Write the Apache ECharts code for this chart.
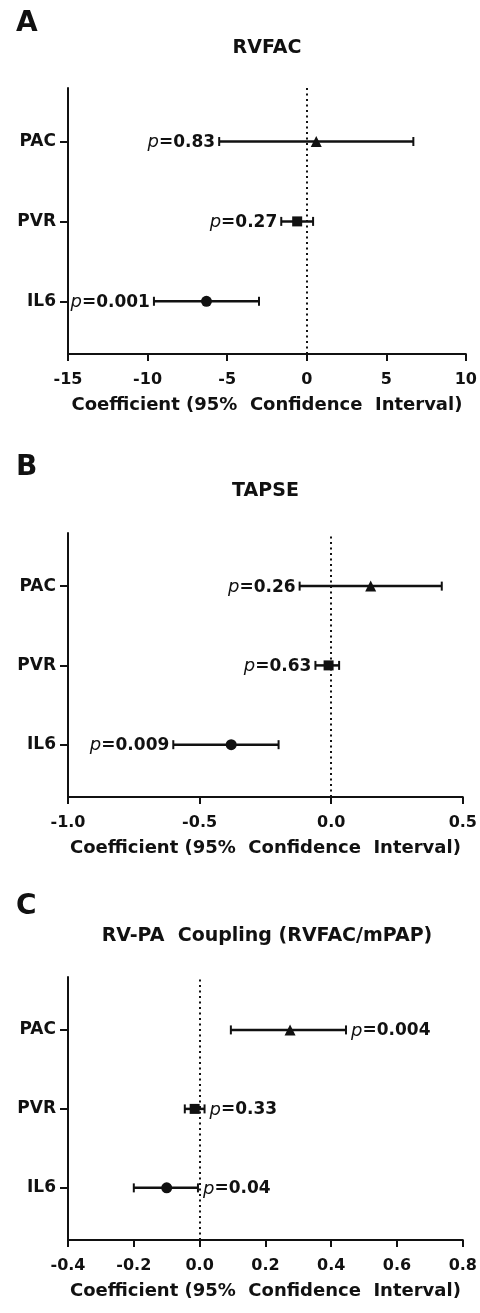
<!DOCTYPE html>
<html><head><meta charset="utf-8">
<script src="https://cdn.jsdelivr.net/npm/echarts@6/dist/echarts.min.js"></script>
<style>html,body{margin:0;padding:0;background:#fff;}#c{width:480px;height:1313px;}</style>
</head><body><div id="c"></div>
<script>
// Categories (bottom to top)
const categories = ['IL6', 'PVR', 'PAC'];
const xAxisTitle = 'Coefficient (95%  Confidence  Interval)';

// Panel A: RVFAC
const rvfacEst  = [-6.3, -0.6, 0.6];
const rvfacLow  = [-9.6, -1.6, -5.5];
const rvfacHigh = [-3.0, 0.4, 6.7];
const rvfacP    = ['0.001', '0.27', '0.83'];
const rvfacTicks = [-15, 10, 5];

// Panel B: TAPSE
const tapseEst  = [-0.38, -0.01, 0.15];
const tapseLow  = [-0.60, -0.06, -0.12];
const tapseHigh = [-0.20, 0.03, 0.42];
const tapseP    = ['0.009', '0.63', '0.26'];
const tapseTicks = [-1.0, 0.5, 0.5];

// Panel C: RV-PA Coupling
const coupEst  = [-0.10, -0.015, 0.275];
const coupLow  = [-0.20, -0.045, 0.095];
const coupHigh = [-0.005, 0.015, 0.445];
const coupP    = ['0.04', '0.33', '0.004'];
const coupTicks = [-0.4, 0.8, 0.2];

const FONT = 'DejaVu Sans';
const INK = '#111111';
const symbols = ['circle', 'rect', 'triangle'];
const symSizes = [11, 10, 11];

const panels = [
  {letter:'A', title:'RVFAC', est:rvfacEst, low:rvfacLow, high:rvfacHigh, p:rvfacP, ticks:rvfacTicks, dec:0, side:'left',
   grid:{left:68, top:88, width:398, height:266}, letterY:22, titleY:48},
  {letter:'B', title:'TAPSE', est:tapseEst, low:tapseLow, high:tapseHigh, p:tapseP, ticks:tapseTicks, dec:1, side:'left',
   grid:{left:68, top:533, width:395, height:264}, letterY:466, titleY:491},
  {letter:'C', title:'RV-PA  Coupling (RVFAC/mPAP)', est:coupEst, low:coupLow, high:coupHigh, p:coupP, ticks:coupTicks, dec:1, side:'right',
   grid:{left:68, top:977, width:398, height:263}, letterY:905, titleY:936}
];

const grids = [], xAxes = [], yAxes = [], series = [], graphics = [];

panels.forEach((pn, k) => {
  grids.push(pn.grid);
  xAxes.push({
    type:'value', gridIndex:k, min:pn.ticks[0], max:pn.ticks[1], interval:pn.ticks[2],
    axisLine:{show:true, onZero:false, lineStyle:{color:INK, width:2}},
    axisTick:{show:true, length:7, lineStyle:{color:INK, width:2}},
    axisLabel:{fontFamily:FONT, fontWeight:'bold', fontSize:16, color:INK, margin:18,
      formatter:v => Number(v).toFixed(pn.dec)},
    splitLine:{show:false},
    name:xAxisTitle, nameLocation:'middle', nameGap:42,
    nameTextStyle:{fontFamily:FONT, fontWeight:'bold', fontSize:18, color:INK}
  });
  yAxes.push({
    type:'value', gridIndex:k, min:0.34, max:3.67,
    axisLine:{show:true, onZero:false, lineStyle:{color:INK, width:2}},
    axisTick:{show:true, length:8, customValues:[1,2,3], lineStyle:{color:INK, width:2}},
    axisLabel:{show:true, customValues:[1,2,3], fontFamily:FONT, fontWeight:'bold', fontSize:17, color:INK, margin:12,
      formatter:v => categories[Math.round(v) - 1]},
    splitLine:{show:false}
  });
  const cdata = categories.map((c, i) => [pn.low[i], pn.high[i], i + 1]);
  series.push({
    type:'custom', xAxisIndex:k, yAxisIndex:k, data:cdata,
    encode:{x:[0,1], y:2},
    renderItem:(params, api) => {
      const i = params.dataIndex;
      const y = api.value(2);
      const a = api.coord([api.value(0), y]);
      const b = api.coord([api.value(1), y]);
      const cap = 4.5;
      const ls = {stroke:INK, lineWidth:2.5};
      const left = pn.side === 'left';
      return {type:'group', children:[
        {type:'line', shape:{x1:a[0], y1:a[1], x2:b[0], y2:b[1]}, style:ls},
        {type:'line', shape:{x1:a[0], y1:a[1]-cap, x2:a[0], y2:a[1]+cap}, style:{stroke:INK, lineWidth:2}},
        {type:'line', shape:{x1:b[0], y1:b[1]-cap, x2:b[0], y2:b[1]+cap}, style:{stroke:INK, lineWidth:2}},
        {type:'text', x: left ? a[0]-4 : b[0]+5, y:a[1]+1,
         style:{text:'{i|p}=' + pn.p[i], align: left ? 'right' : 'left', verticalAlign:'middle',
           fontFamily:FONT, fontWeight:'bold', fontSize:17, fill:INK,
           rich:{i:{fontFamily:FONT, fontStyle:'italic', fontWeight:'normal', fontSize:18, fill:INK}}}}
      ]};
    },
    markLine:{silent:true, symbol:['none','none'], label:{show:false},
      lineStyle:{type:[2,3.5], color:INK, width:2}, data:[{xAxis:0}]},
    z:2
  });
  series.push({
    type:'scatter', xAxisIndex:k, yAxisIndex:k,
    data: pn.est.map((v, i) => ({value:[v, i + 1], symbol:symbols[i], symbolSize:symSizes[i]})),
    itemStyle:{color:INK, opacity:1}, z:3
  });
  graphics.push({type:'text', left:16, top:pn.letterY - 12,
    style:{text:pn.letter, fontFamily:FONT, fontWeight:'bold', fontSize:28, fill:INK}});
  graphics.push({type:'text', x:pn.grid.left + pn.grid.width / 2, y:pn.titleY,
    style:{text:pn.title, fontFamily:FONT, fontWeight:'bold', fontSize:19, fill:INK, align:'center', verticalAlign:'middle'}});
});

const chart = echarts.init(document.getElementById('c'), null, {renderer:'canvas'});
chart.setOption({
  animation:false, backgroundColor:'#fff',
  grid:grids, xAxis:xAxes, yAxis:yAxes, series:series, graphic:graphics
});
</script></body></html>
